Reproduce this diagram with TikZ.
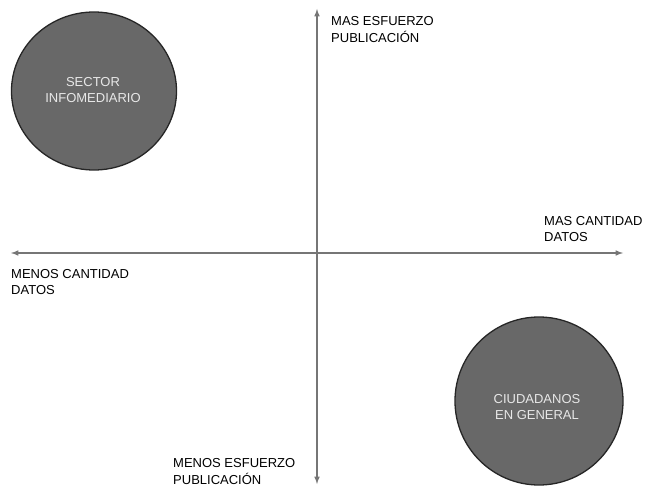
\documentclass[tikz,border=0pt]{standalone}
\usepackage{fontspec}
\setmainfont{Liberation Sans}
\usetikzlibrary{arrows,shapes.geometric}

\definecolor{axisgray}{RGB}{118,118,118}
\definecolor{blobgray}{RGB}{104,104,104}
\definecolor{blobtext}{RGB}{232,232,232}

\tikzset{
  axis/.style={draw=axisgray,line width=1.5pt,latex-latex},
  blob/.style={ellipse,fill=blobgray,draw=black!85,line width=1.3pt,inner sep=0pt},
  blobtxt/.style={text=blobtext,align=center,inner sep=0pt,
    font=\fontsize{13}{16}\selectfont},
  tag/.style={anchor=north west,inner sep=0pt,align=left,
    font=\fontsize{13}{16.5}\selectfont}
}

\begin{document}
\begin{tikzpicture}[x=1pt,y=-1pt]
\useasboundingbox (0,0) rectangle (646,487);

\coordinate (west) at (11,253);
\coordinate (east) at (623,253);
\coordinate (north) at (317,9);
\coordinate (south) at (317,484);
\draw[axis] (west) -- (east);
\draw[axis] (south) -- (north);

\node[blob,minimum width=165pt,minimum height=158pt] (infomediario) at (94,91) {};
\node[blobtxt] (infotxt) at (93,90) {SECTOR\\INFOMEDIARIO};
\node[blob,minimum width=168pt,minimum height=168pt] (ciudadanos) at (539,401) {};
\node[blobtxt] (ciudtxt) at (537,407) {CIUDADANOS\\EN GENERAL};

\node[tag] (masesf) at (331,16.5) {MAS ESFUERZO\\PUBLICACIÓN};
\node[tag] (mascant) at (544,216) {MAS CANTIDAD\\DATOS};
\node[tag] (menoscant) at (11,269) {MENOS CANTIDAD\\DATOS};
\node[tag] (menosesf) at (173,458.5) {MENOS ESFUERZO\\PUBLICACIÓN};

\end{tikzpicture}
\end{document}
